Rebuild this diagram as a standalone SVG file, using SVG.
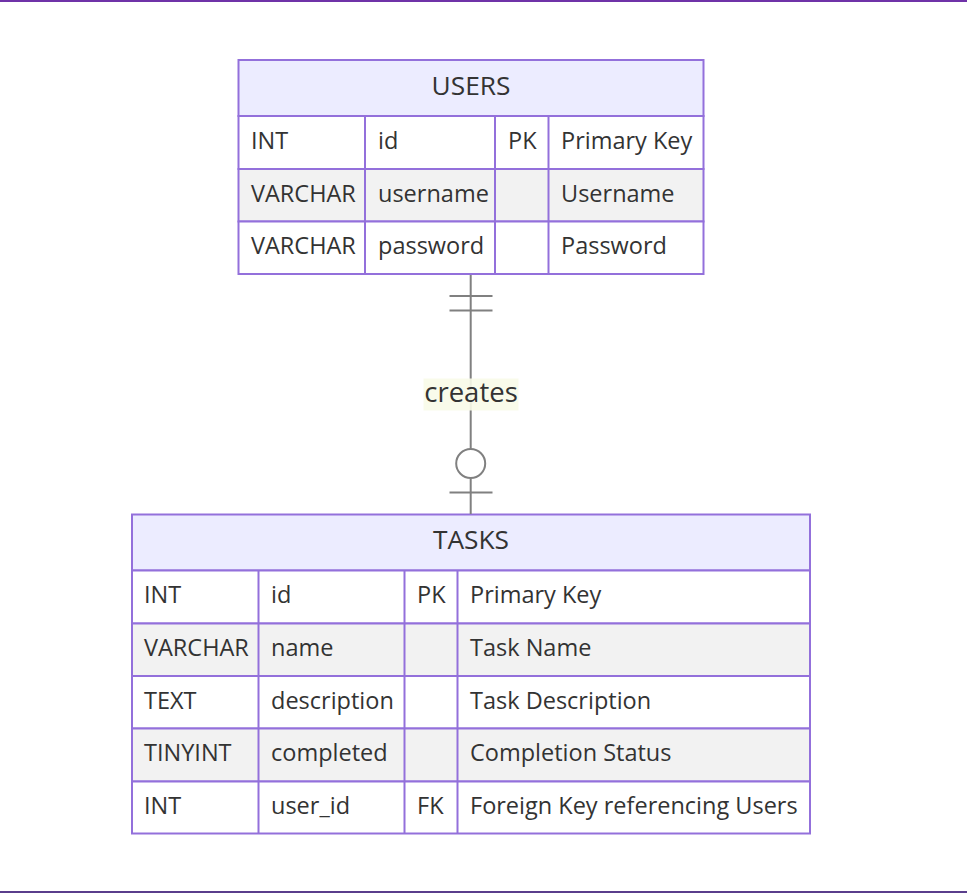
<svg xmlns="http://www.w3.org/2000/svg" width="967" height="893" viewBox="0 0 967 893">
<style>
text{font-family:"Open Sans","Noto Sans","DejaVu Sans",sans-serif;fill:#333;}
.t{font-size:23.5px;dominant-baseline:central;}
.h{font-size:26.3px;text-anchor:middle;dominant-baseline:central;}
.hd{fill:#ECECFF;stroke:#9370DB;stroke-width:2;}
.r1{fill:#ffffff;stroke:#9370DB;stroke-width:2;}
.r2{fill:#f2f2f2;stroke:#9370DB;stroke-width:2;}
.ln{stroke:#9370DB;stroke-width:2;}
.c{stroke:#808080;stroke-width:2;fill:none;}
</style>
<rect x="0" y="0" width="967" height="2" fill="#6f32a8"/>
<rect x="0" y="891" width="967" height="2" fill="#5a3e8c"/>
<g id="USERS">
<rect class="hd" x="238.5" y="60" width="465" height="56"/>
<text class="h" x="471" y="85">USERS</text>
<rect class="r1" x="238.5" y="116" width="465" height="53"/>
<rect class="r2" x="238.5" y="169" width="465" height="52.5"/>
<rect class="r1" x="238.5" y="221.5" width="465" height="52.5"/>
<line class="ln" x1="365" y1="116" x2="365" y2="274"/>
<line class="ln" x1="495" y1="116" x2="495" y2="274"/>
<line class="ln" x1="548.5" y1="116" x2="548.5" y2="274"/>
<text class="t" x="251" y="140">INT</text>
<text class="t" x="378" y="140">id</text>
<text class="t" x="508" y="140">PK</text>
<text class="t" x="561" y="140">Primary Key</text>
<text class="t" x="251" y="192.5">VARCHAR</text>
<text class="t" x="378" y="192.5">username</text>
<text class="t" x="561" y="192.5">Username</text>
<text class="t" x="251" y="245">VARCHAR</text>
<text class="t" x="378" y="245">password</text>
<text class="t" x="561" y="245">Password</text>
</g>
<g id="TASKS">
<rect class="hd" x="132" y="514.5" width="678" height="56"/>
<text class="h" x="471" y="539">TASKS</text>
<rect class="r1" x="132" y="570.5" width="678" height="53"/>
<rect class="r2" x="132" y="623.5" width="678" height="52.5"/>
<rect class="r1" x="132" y="676" width="678" height="52.5"/>
<rect class="r2" x="132" y="728.5" width="678" height="53"/>
<rect class="r1" x="132" y="781.5" width="678" height="52"/>
<line class="ln" x1="258.5" y1="570.5" x2="258.5" y2="833.5"/>
<line class="ln" x1="404.5" y1="570.5" x2="404.5" y2="833.5"/>
<line class="ln" x1="457.5" y1="570.5" x2="457.5" y2="833.5"/>
<text class="t" x="144" y="594">INT</text>
<text class="t" x="271" y="594">id</text>
<text class="t" x="417" y="594">PK</text>
<text class="t" x="470" y="594">Primary Key</text>
<text class="t" x="144" y="647">VARCHAR</text>
<text class="t" x="271" y="647">name</text>
<text class="t" x="470" y="647">Task Name</text>
<text class="t" x="144" y="699.5">TEXT</text>
<text class="t" x="271" y="699.5">description</text>
<text class="t" x="470" y="699.5">Task Description</text>
<text class="t" x="144" y="752">TINYINT</text>
<text class="t" x="271" y="752">completed</text>
<text class="t" x="470" y="752">Completion Status</text>
<text class="t" x="144" y="804.5">INT</text>
<text class="t" x="271" y="804.5">user_id</text>
<text class="t" x="417" y="804.5">FK</text>
<text class="t" x="470" y="804.5">Foreign Key referencing Users</text>
</g>
<g id="connectors">
<line class="c" x1="470.7" y1="275" x2="470.7" y2="448.5"/>
<line class="c" x1="470.7" y1="478.5" x2="470.7" y2="514"/>
<line class="c" x1="449.5" y1="296" x2="492.5" y2="296"/>
<line class="c" x1="449.5" y1="310.5" x2="492.5" y2="310.5"/>
<circle class="c" cx="470.7" cy="463.5" r="14.5" fill="#ffffff"/>
<line class="c" x1="449.5" y1="492.5" x2="492.5" y2="492.5"/>
<rect x="423.5" y="378.5" width="95" height="32" fill="#f8fbe8" opacity="0.9"/>
<text class="t" x="471" y="391" text-anchor="middle" style="font-size:27.5px">creates</text>
</g>
</svg>
